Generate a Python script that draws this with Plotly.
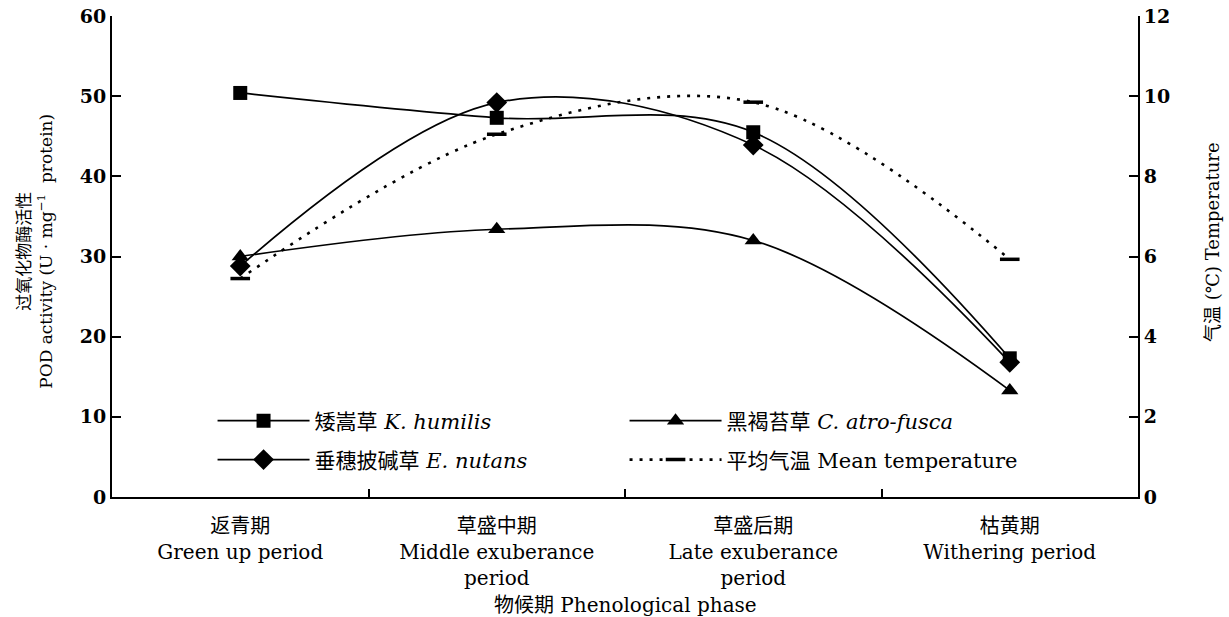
import plotly.graph_objects as go

# Phenological phases (x categories)
phases = ["返青期<br>Green up period",
          "草盛中期<br>Middle exuberance<br>period",
          "草盛后期<br>Late exuberance<br>period",
          "枯黄期<br>Withering period"]
x_pos = [0, 1, 2, 3]

# POD activity (U·mg-1 protein)
k_humilis = [50.4, 47.3, 45.5, 17.3]
c_atrofusca = [30.0, 33.4, 32.0, 13.3]
e_nutans = [28.8, 49.2, 43.9, 16.8]

# Mean air temperature (°C)
mean_temp = [5.45, 9.05, 9.85, 5.93]

SERIF = "DejaVu Serif, Liberation Serif, Noto Sans CJK SC, serif"
BLACK = "#000000"

fig = go.Figure()

line_style = dict(color=BLACK, width=1.7, shape="spline", smoothing=1.0)

fig.add_trace(go.Scatter(
    x=x_pos, y=k_humilis, name="矮嵩草 <i>K. humilis</i>", legend="legend",
    mode="lines+markers", line=line_style,
    marker=dict(symbol="square", size=14, color=BLACK)))

fig.add_trace(go.Scatter(
    x=x_pos, y=c_atrofusca, name="黑褐苔草 <i>C. atro-fusca</i>", legend="legend",
    mode="lines+markers", line=line_style,
    marker=dict(symbol="triangle-up", size=15, color=BLACK)))

fig.add_trace(go.Scatter(
    x=x_pos, y=e_nutans, name="垂穗披碱草 <i>E. nutans</i>", legend="legend2",
    mode="lines+markers", line=line_style,
    marker=dict(symbol="diamond", size=16, color=BLACK)))

fig.add_trace(go.Scatter(
    x=x_pos, y=mean_temp, name="平均气温 Mean temperature", legend="legend2",
    mode="lines+markers", yaxis="y2",
    line=dict(color=BLACK, width=2.6, dash="3px,7px", shape="spline", smoothing=1.0),
    marker=dict(symbol="line-ew", size=14, color=BLACK,
                line=dict(color=BLACK, width=3.5))))

legend_common = dict(orientation="h", xanchor="left", yanchor="middle",
                     entrywidth=305, entrywidthmode="pixels", itemwidth=92,
                     bgcolor="rgba(0,0,0,0)", font=dict(family=SERIF, size=21),
                     traceorder="normal")

fig.update_layout(
    width=1229, height=617,
    margin=dict(l=112, r=91, t=16, b=120, autoexpand=False),
    paper_bgcolor="white", plot_bgcolor="white",
    font=dict(family=SERIF, size=20, color=BLACK),
    showlegend=True,
    legend=dict(x=0.098, y=0.158, **legend_common),
    legend2=dict(x=0.098, y=0.077, **legend_common),
    xaxis=dict(range=[-0.5, 3.5], tickmode="array", tickvals=x_pos, ticktext=phases,
               ticks="", showgrid=False, zeroline=False, ticklabelstandoff=10,
               showline=True, linecolor=BLACK, linewidth=2, automargin=False,
               tickfont=dict(family=SERIF, size=20),
               minor=dict(tickmode="array", tickvals=[0.5, 1.5, 2.5],
                          ticks="inside", ticklen=8, tickwidth=1.5, tickcolor=BLACK)),
    yaxis=dict(range=[0, 60], dtick=10, tick0=0, ticks="inside", ticklen=9,
               tickwidth=1.5, tickcolor=BLACK, showgrid=False, zeroline=False,
               showline=True, linecolor=BLACK, linewidth=2, automargin=False,
               tickfont=dict(family=SERIF, size=19, weight="bold")),
    yaxis2=dict(range=[0, 12], dtick=2, tick0=0, overlaying="y", side="right",
                ticks="inside", ticklen=9, tickwidth=1.5, tickcolor=BLACK,
                showgrid=False, zeroline=False, automargin=False,
                showline=True, linecolor=BLACK, linewidth=2,
                tickfont=dict(family=SERIF, size=19, weight="bold")),
    annotations=[
        dict(text="物候期 Phenological phase",
             xref="paper", yref="paper", x=0.5, y=-0.224,
             xanchor="center", yanchor="middle", showarrow=False,
             font=dict(family=SERIF, size=20)),
        dict(text="过氧化物酶活性<br>POD activity (U · mg<sup>−1</sup>  protein)",
             xref="paper", yref="paper", x=-0.075, y=0.51,
             xanchor="center", yanchor="middle", textangle=-90, showarrow=False,
             font=dict(family=SERIF, size=17)),
        dict(text="气温 (℃) Temperature",
             xref="paper", yref="paper", x=1.072, y=0.53,
             xanchor="center", yanchor="middle", textangle=-90, showarrow=False,
             font=dict(family=SERIF, size=18)),
    ],
)

fig.write_html("out.html")
